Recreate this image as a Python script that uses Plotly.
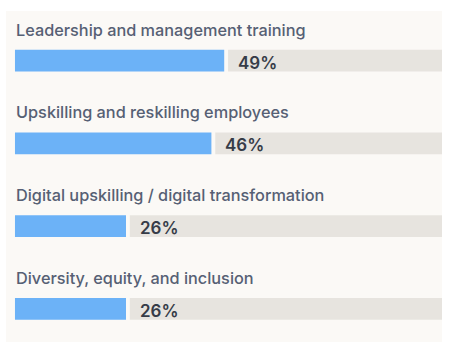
import plotly.graph_objects as go

categories = [
    "Leadership and management training",
    "Upskilling and reskilling employees",
    "Digital upskilling / digital transformation",
    "Diversity, equity, and inclusion",
]
values = [49, 46, 26, 26]
track_max = 100
gap = 0.9

BLUE = "#6cb2f7"
TRACK = "#e7e4df"
PANEL = "#fbf9f6"
LABEL = "#566074"
PCT = "#363c48"
FONT = "Inter"

idx = list(range(len(categories)))

fig = go.Figure()
fig.add_trace(go.Bar(
    y=idx, x=values, orientation="h", width=0.265,
    marker=dict(color=BLUE, line=dict(width=0)), hoverinfo="skip",
))
fig.add_trace(go.Bar(
    y=idx, x=[track_max - v - gap for v in values], base=[v + gap for v in values],
    orientation="h", width=0.265,
    marker=dict(color=TRACK, line=dict(width=0)), hoverinfo="skip",
))

for i, (c, v) in enumerate(zip(categories, values)):
    fig.add_annotation(x=0, y=i, xref="x", yref="y", text=c, showarrow=False,
                       xanchor="left", yanchor="middle", yshift=31, xshift=-1,
                       font=dict(family=FONT, size=16.3, color=LABEL, weight=500))
    fig.add_annotation(x=v + gap, y=i, xref="x", yref="y", text=f"{v}%", showarrow=False,
                       xanchor="left", yanchor="middle", xshift=8, yshift=-2,
                       font=dict(family=FONT, size=17, color=PCT, weight=600))

fig.update_layout(
    width=450, height=355,
    margin=dict(l=6, r=8, t=11, b=13),
    paper_bgcolor="white", plot_bgcolor=PANEL,
    barmode="overlay", showlegend=False,
    xaxis=dict(range=[-2.1, track_max], visible=False, fixedrange=True),
    yaxis=dict(range=[3.4, -0.6], visible=False, fixedrange=True),
)

fig.write_html("out.html", config={"displayModeBar": False},
               post_script="document.body.style.margin='0';")
